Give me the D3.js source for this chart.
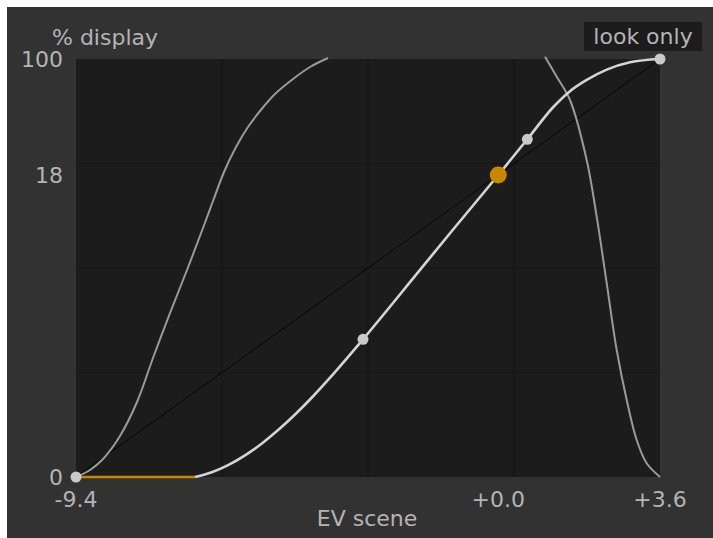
<!DOCTYPE html>
<html>
<head>
<meta charset="utf-8">
<script src="https://cdn.jsdelivr.net/npm/d3@7"></script>
<style>
  html, body { margin: 0; padding: 0; background: #ffffff; }
  svg { display: block; }
  text { font-family: "DejaVu Sans", sans-serif; }
</style>
</head>
<body>
<svg id="chart" width="713" height="538"></svg>
<script>
// ---------- data ----------
// x: EV scene, y: filmic "look" output (0..1 of graph height)
const xTicks = [-9.4, 0.0, 3.6];
const yTickLabels = [0, 18, 100];          // % display
const greyDisplay = 18;                     // % display of middle grey
const greyLook = 0.7225;                    // look output for middle grey

// main filmic curve (toe -> latitude -> shoulder)
const curveEV   = [-6.75, -6.377, -6.003, -5.629, -5.255, -4.881, -4.507, -4.133, -3.759, -3.385, -3.011,
                   -1.742, -1.001, 0.0, 0.646, 1.225, 1.597, 1.968, 2.414, 2.932, 3.6];
const curveLook = [0.0, 0.0114, 0.0290, 0.0523, 0.0808, 0.1140, 0.1512, 0.1920, 0.2358, 0.2820, 0.3294,
                   0.4955, 0.5926, 0.7225, 0.8079, 0.8852, 0.9230, 0.9498, 0.9746, 0.9921, 1.0];

// clipped black segment (orange)
const clipEV   = [-9.4, -6.75];
const clipLook = [0, 0];

// grey curves (left and right flanks, clipped at top)
const leftEV    = [-9.4, -9.088, -8.799, -8.421, -8.042, -7.686, -7.308, -6.929, -6.573, -6.350, -6.105, -5.838, -5.571, -5.304, -4.970, -4.569, -4.191, -3.790];
const leftLook  = [0, 0.0167, 0.0431, 0.0981, 0.1794, 0.2847, 0.3923, 0.4952, 0.5957, 0.6603, 0.7297, 0.7895, 0.8373, 0.8756, 0.9163, 0.9522, 0.9809, 1.0024];
const rightEV   = [1.040, 1.301, 1.597, 1.968, 2.191, 2.414, 2.636, 2.859, 3.081, 3.304, 3.6];
const rightLook = [1.0055, 0.9577, 0.9019, 0.7584, 0.6227, 0.4634, 0.3038, 0.1842, 0.0885, 0.0328, 0];

// diagonal reference
const diagEV   = [-9.4, 3.6];
const diagLook = [0, 1];

// control nodes
const nodeEV   = [-9.4, -3.011, 0.646, 3.6];
const nodeLook = [0, 0.3294, 0.8079, 1.0];
const greyNodeEV = 0.0;

const gridDivisions = 4;

// ---------- layout ----------
const svg = d3.select("#chart");
const plot = { left: 76, right: 660, top: 59, bottom: 477 };

const x = d3.scaleLinear().domain([-9.4, 3.6]).range([plot.left, plot.right]);
const y = d3.scaleLinear().domain([0, 1]).range([plot.bottom, plot.top]);
const expo = Math.log(greyLook) / Math.log(greyDisplay / 100);
const yDisp = d3.scalePow().exponent(expo).domain([0, 100]).range([plot.bottom, plot.top]);
const grid = d3.scaleLinear().domain([0, gridDivisions]);

// panel background
svg.append("rect").attr("x", 7).attr("y", 7).attr("width", 706).attr("height", 531).attr("fill", "#323232");

// plot background
svg.append("rect")
  .attr("x", plot.left).attr("y", plot.top)
  .attr("width", plot.right - plot.left).attr("height", plot.bottom - plot.top)
  .attr("fill", "#1c1c1c");

// grid
const gx = grid.copy().range([plot.left, plot.right]);
const gy = grid.copy().range([plot.bottom, plot.top]);
const gridG = svg.append("g").attr("stroke", "#151515").attr("stroke-width", 1);
d3.range(1, gridDivisions).forEach(i => {
  gridG.append("line").attr("x1", gx(i)).attr("x2", gx(i)).attr("y1", plot.top).attr("y2", plot.bottom);
  gridG.append("line").attr("x1", plot.left).attr("x2", plot.right).attr("y1", gy(i)).attr("y2", gy(i));
});

const zip = (a, b) => a.map((v, i) => [v, b[i]]);
const line = d3.line().x(d => x(d[0])).y(d => y(d[1])).curve(d3.curveMonotoneX);
const smooth = d3.line().x(d => x(d[0])).y(d => y(d[1])).curve(d3.curveCatmullRom.alpha(0.5));

// diagonal
svg.append("path").attr("d", d3.line().x(d => x(d[0])).y(d => y(d[1]))(zip(diagEV, diagLook)))
  .attr("stroke", "#0d0d0d").attr("stroke-width", 1.2).attr("fill", "none");

// grey curves
[zip(leftEV, leftLook), zip(rightEV, rightLook)].forEach(pts => {
  svg.append("path").attr("d", smooth(pts))
    .attr("stroke", "#9a9a9a").attr("stroke-width", 2).attr("fill", "none");
});

// main curve
svg.append("path").attr("d", line(zip(curveEV, curveLook)))
  .attr("stroke", "#d4d4d4").attr("stroke-width", 2.6).attr("fill", "none");

// clipped segment
svg.append("path").attr("d", d3.line().x(d => x(d[0])).y(d => y(d[1]))(zip(clipEV, clipLook)))
  .attr("stroke", "#c98700").attr("stroke-width", 2.6).attr("fill", "none");

// nodes
svg.append("g").selectAll("circle").data(zip(nodeEV, nodeLook)).join("circle")
  .attr("cx", d => x(d[0])).attr("cy", d => y(d[1])).attr("r", 5.5).attr("fill", "#cacaca");
svg.append("circle").attr("cx", x(greyNodeEV)).attr("cy", yDisp(greyDisplay)).attr("r", 8.5).attr("fill", "#c98700");

// text
const txt = "#b4b4b4";
const fs = 22;

svg.append("g").selectAll("text").data(yTickLabels).join("text")
  .attr("x", 63).attr("y", d => yDisp(d)).attr("dy", "0.36em")
  .attr("text-anchor", "end").attr("font-size", fs).attr("fill", txt)
  .text(d => d);

const fmt = d => (d >= 0 ? "+" : "") + d.toFixed(1);
svg.append("g").selectAll("text").data(xTicks).join("text")
  .attr("x", d => x(d)).attr("y", 507)
  .attr("text-anchor", "middle").attr("font-size", fs).attr("fill", txt)
  .text(fmt);

svg.append("text").attr("x", 52).attr("y", 45).attr("font-size", fs).attr("fill", txt).text("% display");
svg.append("text").attr("x", (plot.left + plot.right) / 2 - 1).attr("y", 526)
  .attr("text-anchor", "middle").attr("font-size", fs).attr("fill", txt).text("EV scene");

// "look only" badge
svg.append("rect").attr("x", 584).attr("y", 22).attr("width", 118).attr("height", 29).attr("fill", "#1c1c1c");
svg.append("text").attr("x", 643).attr("y", 44).attr("text-anchor", "middle")
  .attr("font-size", fs).attr("fill", txt).text("look only");
</script>
</body>
</html>
